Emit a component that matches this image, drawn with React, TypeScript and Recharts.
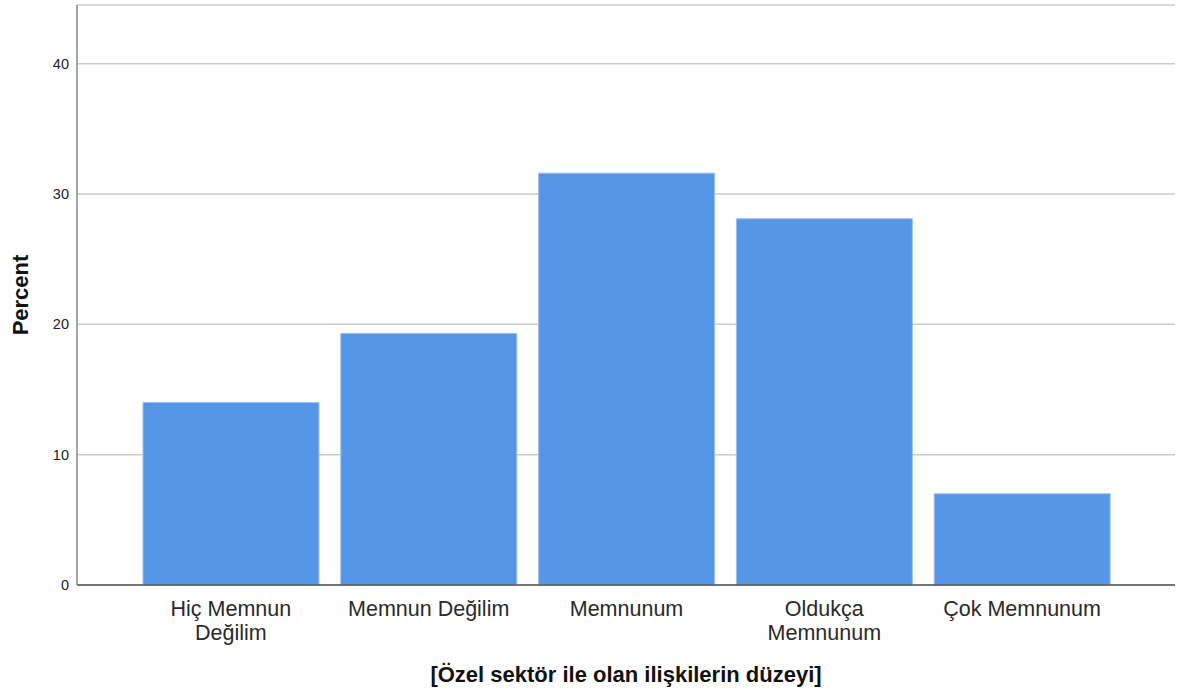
import React from 'react';
import { BarChart, Bar, XAxis, YAxis, CartesianGrid, Label } from 'recharts';

const categories = ['Hiç Memnun\nDeğilim', 'Memnun Değilim', 'Memnunum', 'Oldukça\nMemnunum', 'Çok Memnunum'];
const percents = [14.0, 19.3, 31.6, 28.1, 7.0];
const yTicks = [0, 10, 20, 30, 40];

const data = categories.map((name, i) => ({ name, value: percents[i] }));

const font = '"Liberation Sans", Arial, sans-serif';

const CategoryTick = (props: any) => {
  const { x, y, payload } = props;
  const lines = String(payload.value).split('\n');
  return (
    <text x={x} y={y} textAnchor="middle" fill="#2a2a2a" fontSize={21.5} fontFamily={font}>
      {lines.map((line: string, i: number) => (
        <tspan key={i} x={x} dy={i === 0 ? 23 : 24}>
          {line}
        </tspan>
      ))}
    </text>
  );
};

const App = () => {
  return (
    <div style={{ position: 'absolute', left: 0, top: 0, width: 1183, height: 692, background: '#fff' }}>
      <BarChart
        width={1183}
        height={692}
        data={data}
        margin={{ top: 5, right: 8, left: 0, bottom: 0 }}
        barCategoryGap={11}
      >
        <CartesianGrid horizontal vertical={false} stroke="#cccccc" strokeWidth={1.5} />
        <XAxis
          dataKey="name"
          height={107}
          padding={{ left: 55, right: 54 }}
          tick={<CategoryTick />}
          tickLine={false}
          axisLine={{ stroke: '#555', strokeWidth: 1.5 }}
          interval={0}
        >
          <Label
            value="[Özel sektör ile olan ilişkilerin düzeyi]"
            position="insideBottom"
            offset={10}
            style={{ fontFamily: font, fontSize: 22, fontWeight: 'bold', fill: '#111' }}
          />
        </XAxis>
        <YAxis
          width={77}
          domain={[0, 44.5]}
          ticks={yTicks}
          tickLine={false}
          axisLine={{ stroke: '#888', strokeWidth: 1.5 }}
          tick={{ fill: '#222', fontSize: 14.5, fontFamily: font }}
          tickMargin={2}
        >
          <Label
            value="Percent"
            angle={-90}
            position="insideLeft"
            offset={20}
            style={{ fontFamily: font, fontSize: 22, fontWeight: 'bold', fill: '#111', textAnchor: 'middle' }}
          />
        </YAxis>
        <Bar dataKey="value" fill="#5596e6" stroke="#9dc0ef" strokeWidth={1} isAnimationActive={false} />
      </BarChart>
    </div>
  );
};

export default App;
